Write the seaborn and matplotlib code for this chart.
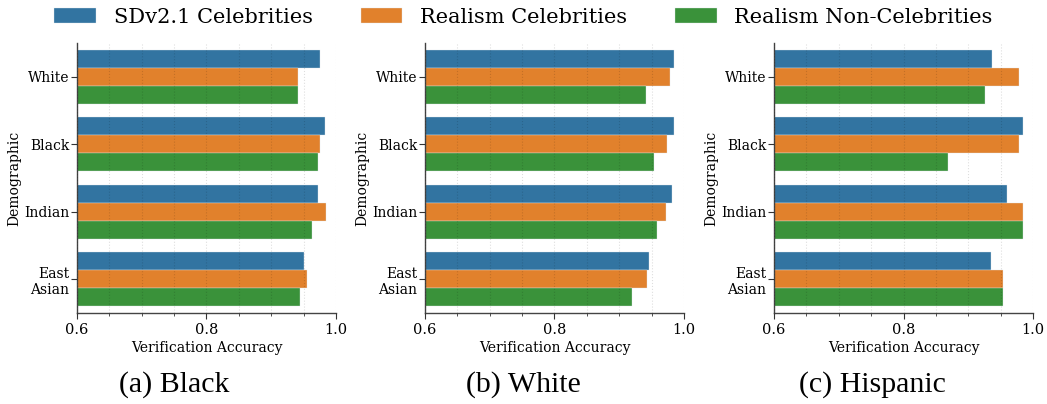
import numpy as np
import pandas as pd
import seaborn as sns
import matplotlib
matplotlib.use("Agg")
import matplotlib.pyplot as plt
from matplotlib.ticker import MultipleLocator

# Demographic groups on the y axis and the three compared models
demographics = ["White", "Black", "Indian", "East\nAsian"]
models = ["SDv2.1 Celebrities", "Realism Celebrities", "Realism Non-Celebrities"]

# Verification accuracy per reference group (one list per model, in demographic order)
black_sd = [0.976, 0.983, 0.972, 0.951]
black_realism = [0.942, 0.975, 0.985, 0.956]
black_noncel = [0.942, 0.972, 0.963, 0.944]

white_sd = [0.985, 0.985, 0.981, 0.946]
white_realism = [0.978, 0.974, 0.972, 0.943]
white_noncel = [0.941, 0.954, 0.959, 0.919]

hisp_sd = [0.936, 0.985, 0.960, 0.935]
hisp_realism = [0.979, 0.979, 0.984, 0.954]
hisp_noncel = [0.926, 0.869, 0.985, 0.954]

captions = ["(a) Black", "(b) White", "(c) Hispanic"]
panels = [
    (black_sd, black_realism, black_noncel),
    (white_sd, white_realism, white_noncel),
    (hisp_sd, hisp_realism, hisp_noncel),
]


def to_frame(series):
    rows = []
    for model, vals in zip(models, series):
        for demo, v in zip(demographics, vals):
            rows.append({"Demographic": demo, "Model": model, "Accuracy": v})
    return pd.DataFrame(rows)


sns.set_theme(style="white")
plt.rcParams["font.family"] = ["DejaVu Serif"]
plt.rcParams["text.color"] = "black"
plt.rcParams["axes.labelcolor"] = "black"
plt.rcParams["xtick.color"] = "black"
plt.rcParams["ytick.color"] = "black"

fig = plt.figure(figsize=(10.47, 4.04), dpi=100)
lefts = [0.0735, 0.4059, 0.7393]
bottom, height, width = 0.2252, 0.668, 0.2474
palette = sns.color_palette("tab10", 3, desat=0.75)

axes = []
for i, (series, cap) in enumerate(zip(panels, captions)):
    ax = fig.add_axes([lefts[i], bottom, width, height])
    df = to_frame(series)
    sns.barplot(data=df, y="Demographic", x="Accuracy", hue="Model",
                order=demographics, hue_order=models, palette=palette,
                orient="h", ax=ax, edgecolor="#dfe6ec", linewidth=0.25,
                saturation=1.0, width=0.8)
    ax.set_xlim(0.6, 1.0)
    ax.xaxis.set_major_locator(MultipleLocator(0.2))
    ax.xaxis.set_minor_locator(MultipleLocator(0.05))
    ax.grid(True, which="both", axis="x", linestyle=":", color="black",
            alpha=0.13, linewidth=0.8)
    ax.set_axisbelow(False)
    ax.set_xlabel("Verification Accuracy", fontsize=10, labelpad=3)
    ax.set_ylabel("Demographic", fontsize=10, labelpad=2)
    ax.tick_params(axis="x", which="major", labelsize=10.5, length=4,
                   width=0.8, color="#333333", bottom=True, pad=3)
    ax.tick_params(axis="y", which="major", labelsize=10, length=4,
                   width=0.8, color="#333333", left=True, pad=1.5)
    ax.tick_params(axis="x", which="minor", length=2.5, width=0.6,
                   color="#333333", bottom=True)
    for side in ["top", "right"]:
        ax.spines[side].set_visible(False)
    for side in ["left", "bottom"]:
        ax.spines[side].set_color("#444444")
        ax.spines[side].set_linewidth(1.0)
    handles, labels = ax.get_legend_handles_labels()
    ax.get_legend().remove()
    axes.append(ax)
    fig.text((2 * i + 1) / 6, 0.047, cap, ha="center", va="center",
             fontsize=21.5, family=["Liberation Serif"], color="black")

fig.legend(handles, labels, loc="center", bbox_to_anchor=(0.5, 0.957),
           ncol=3, frameon=False, fontsize=15, handlelength=2.0,
           handleheight=0.7, handletextpad=0.85, columnspacing=2.3,
           borderaxespad=0)

fig.savefig("out.png", dpi=100)
